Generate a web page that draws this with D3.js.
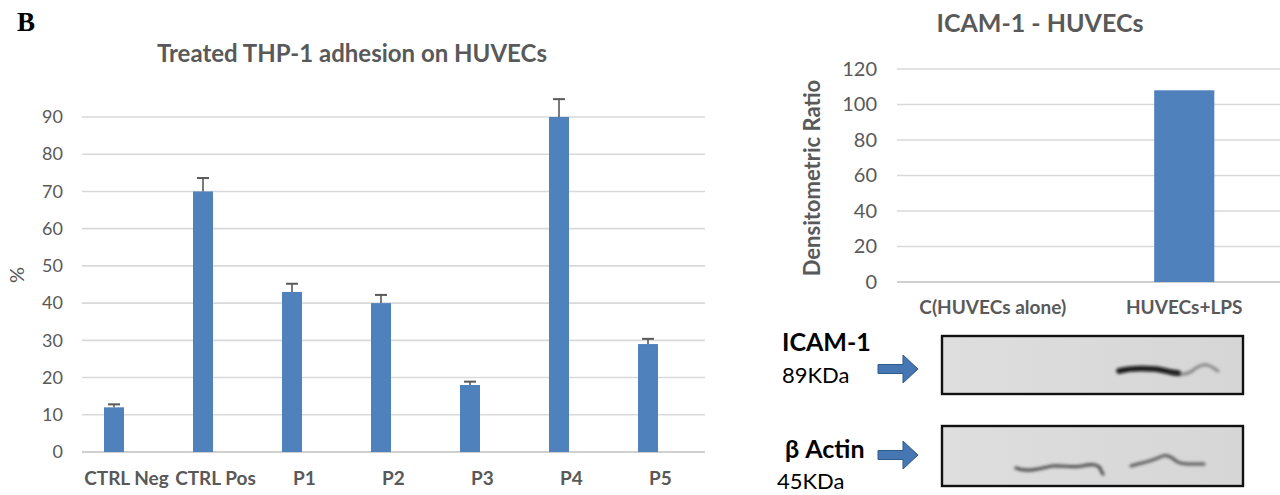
<!DOCTYPE html>
<html><head><meta charset="utf-8">
<script src="https://cdn.jsdelivr.net/npm/d3@7"></script>
<style>
html,body{margin:0;padding:0;background:#fff;}
svg{display:block;font-family:Lato,"Open Sans",sans-serif;}
</style></head>
<body>
<svg id="chart" width="1280" height="495"></svg>
<script>
// ---- Data: left chart ----
const adhesionCategories = ["CTRL Neg","CTRL Pos","P1","P2","P3","P4","P5"];
const adhesionValues = [12, 70, 43, 40, 18, 90, 29];
const adhesionErrors = [0.8, 3.6, 2.2, 2.2, 0.9, 4.8, 1.4];
const adhesionTicks = [0,10,20,30,40,50,60,70,80,90];

// ---- Data: right chart ----
const icamCategories = ["C(HUVECs alone)","HUVECs+LPS"];
const icamValues = [0, 108];
const icamTicks = [0,20,40,60,80,100,120];

const svg = d3.select("#chart");
const blue = "#4F81BD", grid = "#d9d9d9", txt = "#595959";

// Panel letter
svg.append("text").attr("x",17).attr("y",31).text("B")
  .style("font-family","'Liberation Serif','DejaVu Serif',serif")
  .style("font-weight","bold").style("font-size","27px").attr("fill","#000");

// ---------- Left chart ----------
const L = {x0:82, x1:705, y0:452};
const yL = d3.scaleLinear().domain([0,90]).range([L.y0,117]);
// bars sit slightly left of the plot frame in the original
const xL = d3.scaleBand().domain(adhesionCategories).range([L.x0-12.5,L.x1-12.5]).paddingInner(0.775).paddingOuter(0.3875);
const xLab = d3.scaleBand().domain(adhesionCategories).range([L.x0,L.x1]);

const gL = svg.append("g");
gL.append("text").attr("x",352).attr("y",62).attr("text-anchor","middle")
  .attr("fill",txt).style("font-size","24px").style("font-weight","bold")
  .text("Treated THP-1 adhesion on HUVECs");

gL.selectAll("line.grid").data(adhesionTicks).join("line")
  .attr("x1",L.x0).attr("x2",L.x1)
  .attr("y1",d=>yL(d)).attr("y2",d=>yL(d))
  .attr("stroke",d=>d===0?"#bfbfbf":grid).attr("stroke-width",1.6);

const axL = d3.axisLeft(yL).tickValues(adhesionTicks).tickSize(0).tickPadding(0);
const axLg = gL.append("g").attr("transform",`translate(${L.x0-19},0)`).call(axL);
axLg.select(".domain").remove();
axLg.selectAll("text").attr("fill",txt).style("font-size","18px").style("font-family","Lato,sans-serif");

gL.selectAll("rect.bar").data(adhesionValues).join("rect")
  .attr("x",(d,i)=>xL(adhesionCategories[i])).attr("width",xL.bandwidth())
  .attr("y",d=>yL(d)).attr("height",d=>L.y0-yL(d)).attr("fill",blue);

const eb = gL.selectAll("g.err").data(adhesionValues).join("g");
eb.append("line")
  .attr("x1",(d,i)=>xL(adhesionCategories[i])+xL.bandwidth()/2)
  .attr("x2",(d,i)=>xL(adhesionCategories[i])+xL.bandwidth()/2)
  .attr("y1",d=>yL(d)).attr("y2",(d,i)=>yL(d+adhesionErrors[i]))
  .attr("stroke",txt).attr("stroke-width",1.6);
eb.append("line")
  .attr("x1",(d,i)=>xL(adhesionCategories[i])+xL.bandwidth()/2-6)
  .attr("x2",(d,i)=>xL(adhesionCategories[i])+xL.bandwidth()/2+6)
  .attr("y1",(d,i)=>yL(d+adhesionErrors[i])).attr("y2",(d,i)=>yL(d+adhesionErrors[i]))
  .attr("stroke",txt).attr("stroke-width",2);

gL.selectAll("text.cat").data(adhesionCategories).join("text")
  .attr("x",d=>xLab(d)+xLab.bandwidth()/2)
  .attr("y",485).attr("text-anchor","middle")
  .attr("fill",txt).style("font-size","19px").style("font-weight","bold").text(d=>d);

gL.append("text").attr("transform","translate(24,275) rotate(-90)")
  .attr("text-anchor","middle").attr("fill",txt).style("font-size","20px").text("%");

// ---------- Right chart ----------
const R = {x0:897, x1:1280, y0:282};
const yR = d3.scaleLinear().domain([0,120]).range([R.y0,69]);
const xR = d3.scaleBand().domain(icamCategories).range([R.x0,1280]).paddingInner(0.686).paddingOuter(0.343);

const gR = svg.append("g");
gR.append("text").attr("x",1040).attr("y",32).attr("text-anchor","middle")
  .attr("fill",txt).style("font-size","25px").style("font-weight","bold").text("ICAM-1 - HUVECs");

gR.selectAll("line.grid").data(icamTicks).join("line")
  .attr("x1",R.x0).attr("x2",R.x1)
  .attr("y1",d=>yR(d)).attr("y2",d=>yR(d))
  .attr("stroke",d=>d===0?"#bfbfbf":grid).attr("stroke-width",1.6);

const axR = d3.axisLeft(yR).tickValues(icamTicks).tickSize(0).tickPadding(0);
const axRg = gR.append("g").attr("transform",`translate(${R.x0-20},0)`).call(axR);
axRg.select(".domain").remove();
axRg.selectAll("text").attr("fill",txt).style("font-size","20px").style("font-family","Lato,sans-serif");

gR.selectAll("rect.bar").data(icamValues).join("rect")
  .attr("x",(d,i)=>xR(icamCategories[i])).attr("width",xR.bandwidth())
  .attr("y",d=>yR(d)).attr("height",d=>R.y0-yR(d)).attr("fill",blue);

gR.selectAll("text.cat").data(icamCategories).join("text")
  .attr("x",d=>xR(d)+xR.bandwidth()/2).attr("y",314).attr("text-anchor","middle")
  .attr("fill",txt).style("font-size","19px").style("font-weight","bold").text(d=>d);

gR.append("text").attr("transform","translate(820,178) rotate(-90)")
  .attr("text-anchor","middle").attr("fill",txt).style("font-size","22px").style("font-weight","bold")
  .text("Densitometric Ratio");

// ---------- Western blot panels ----------
const defs = svg.append("defs");
const f = defs.append("filter").attr("id","blur").attr("x","-20%").attr("y","-300%").attr("width","140%").attr("height","700%");
f.append("feGaussianBlur").attr("stdDeviation","1.8");
const lg = defs.append("linearGradient").attr("id","mem").attr("x1","0").attr("x2","1");
lg.append("stop").attr("offset","0").attr("stop-color","#dedede");
lg.append("stop").attr("offset","1").attr("stop-color","#d6d6d6");

const blots = [
  {label:"ICAM-1", kda:"89KDa", y:336, h:58, ly:351, ky:383, lx:782, kx:782, ay:369},
  {label:"β Actin", kda:"45KDa", y:426, h:60, ly:458, ky:489, lx:785, kx:777, ay:455}
];
blots.forEach(b=>{
  svg.append("rect").attr("x",942).attr("y",b.y).attr("width",301).attr("height",b.h)
    .attr("fill","url(#mem)").attr("stroke","#111").attr("stroke-width",2.4);
  svg.append("text").attr("x",b.lx).attr("y",b.ly).attr("fill","#000")
    .style("font-size","25px").style("font-weight","bold").text(b.label);
  svg.append("text").attr("x",b.kx).attr("y",b.ky).attr("fill","#000")
    .style("font-size","22px").text(b.kda);
  // arrow
  const ax=878, ay=b.ay;
  svg.append("path")
    .attr("d",`M${ax},${ay-4.5} L${ax+25},${ay-4.5} L${ax+25},${ay-14} L${ax+40},${ay} L${ax+25},${ay+14} L${ax+25},${ay+4.5} L${ax},${ay+4.5} Z`)
    .attr("fill","#4677b3").attr("stroke","#2f5a8c").attr("stroke-width",1);
});
// bands
const band = (d,w,op,c)=>svg.append("path").attr("d",d).attr("fill","none")
  .attr("stroke",c||"#0a0a0a").attr("stroke-width",w).attr("stroke-linecap","round")
  .attr("opacity",op).attr("filter","url(#blur)");
band("M1119,371 C1130,368 1142,368 1155,369 C1165,370 1170,373 1178,373",5.5,0.95);
band("M1170,372 C1178,375 1185,376 1192,371 C1198,366 1205,363 1210,366 C1214,368 1216,370 1218,371",3,0.5,"#333");
band("M1016,468 C1028,473 1040,468 1052,466 C1062,465 1072,468 1082,466 C1092,464 1097,464 1100,468 C1101,471 1102,472 1103,474",3.2,0.75,"#222");
band("M1131,466 C1142,463 1152,461 1160,457 C1166,454 1170,456 1176,461 C1182,465 1190,464 1204,464",3,0.7,"#222");
</script>
</body></html>
